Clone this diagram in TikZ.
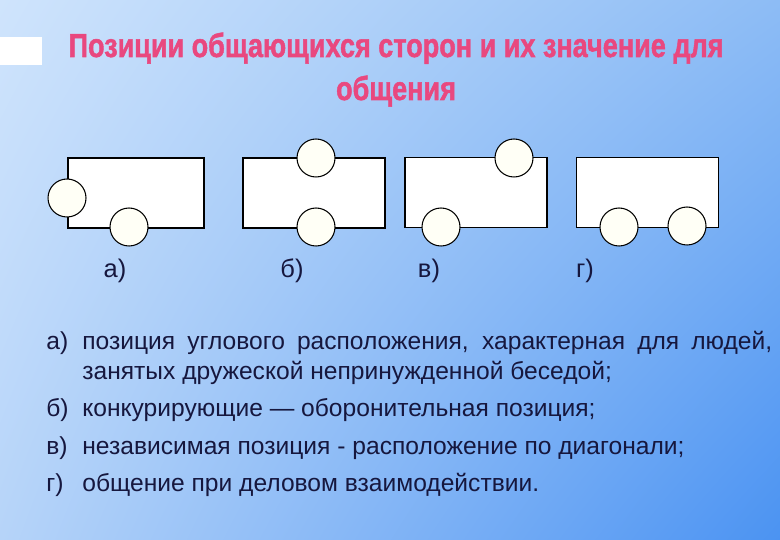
\documentclass[tikz,border=0pt]{standalone}
\usepackage{fontspec}
\setmainfont{Liberation Sans}
\newfontfamily\headfont[BoldFeatures={FakeBold=1.6}]{Liberation Sans}
\usepackage{xcolor}
\usetikzlibrary{shadings}
\definecolor{SlidePink}{HTML}{E9487F}
\definecolor{SlideInk}{HTML}{16173E}
\definecolor{SkyPale}{HTML}{CFE4FC}
\definecolor{SkyMid}{HTML}{8DBCF5}
\definecolor{SkySoft}{HTML}{B6D4F9}
\definecolor{SkyDeep}{HTML}{4B93F2}
\definecolor{SeatCream}{HTML}{FFFFF6}

\begin{document}
\begin{tikzpicture}[x=0.02cm, y=-0.02cm,
    desk/.style={draw, fill=white, line width=0.6pt, minimum width=2.84cm, minimum height=1.4cm, inner sep=0pt},
    seat/.style={circle, draw, fill=SeatCream, line width=0.6pt, minimum size=0.76cm, inner sep=0pt},
    tag/.style={text=SlideInk, font=\fontsize{14.5}{16}\selectfont, anchor=base, inner sep=0pt},
    itemtext/.style={text=SlideInk, font=\fontsize{14}{16}\selectfont, anchor=base west, inner sep=0pt},
    heading/.style={text=SlidePink, font=\fontsize{19}{22}\selectfont\headfont\bfseries, anchor=base, inner sep=0pt}
  ]
    \useasboundingbox (0,0) rectangle (780,540);
    \shade[upper left=SkyPale, upper right=SkyMid, lower left=SkySoft, lower right=SkyDeep] (0,0) rectangle (780,540);
    \fill[white] (0,37) rectangle (42,65);

    \node[heading] (title1) at (396,57) {\scalebox{0.81}[1]{Позиции общающихся сторон и их значение для}};
    \node[heading] (title2) at (396,100) {\scalebox{0.81}[1]{общения}};

    \node[desk, minimum width=2.72cm] (deskA) at (136,193) {};
    \node[desk] (deskB) at (314,193) {};
    \node[desk] (deskV) at (476,192.5) {};
    \node[desk] (deskG) at (647.5,192.5) {};

    \node[seat] (seatA1) at (67,198) {};
    \node[seat] (seatA2) at (129,227) {};
    \node[seat] (seatB1) at (316,158) {};
    \node[seat] (seatB2) at (316,227) {};
    \node[seat] (seatV1) at (514,158) {};
    \node[seat] (seatV2) at (441,227) {};
    \node[seat] (seatG1) at (619,227) {};
    \node[seat] (seatG2) at (687,226) {};

    \node[tag] (tagA) at (115,277) {а)};
    \node[tag] (tagB) at (292,277) {б)};
    \node[tag] (tagV) at (429,277) {в)};
    \node[tag] (tagG) at (585,277) {г)};

    \node[itemtext] (markA) at (46,349) {а)};
    \node[itemtext] (textA1) at (82,349) {\makebox[13.8cm][s]{позиция углового расположения, характерная для людей,}};
    \node[itemtext] (textA2) at (82,379) {занятых дружеской непринужденной беседой;};
    \node[itemtext] (markB) at (46,416) {б)};
    \node[itemtext] (textB) at (82,416) {конкурирующие --- оборонительная позиция;};
    \node[itemtext] (markV) at (46,454) {в)};
    \node[itemtext] (textV) at (82,454) {независимая позиция - расположение по диагонали;};
    \node[itemtext] (markG) at (46,491) {г)};
    \node[itemtext] (textG) at (82,491) {общение при деловом взаимодействии.};
  \end{tikzpicture}
\end{document}
